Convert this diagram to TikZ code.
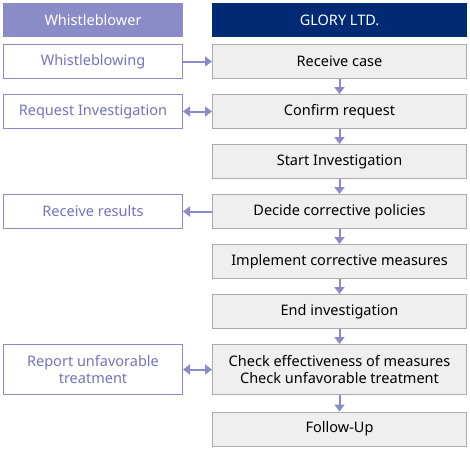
\documentclass[tikz,border=0pt]{standalone}
\usepackage{fontspec}
\setmainfont{Noto Sans}
\usetikzlibrary{arrows.meta}
\definecolor{lav}{HTML}{8B8BC8}
\definecolor{lavtxt}{HTML}{7474BA}
\definecolor{navy}{HTML}{002A74}
\definecolor{boxgray}{HTML}{EEEFEE}
\definecolor{bordgray}{HTML}{ABABAB}
\tikzset{fnt/.style={font=\fontsize{14.5}{17}\selectfont}}
\begin{document}
\begin{tikzpicture}[x=1pt,y=-1pt,
  lefthead/.style={fill=lav,draw=none,minimum width=180pt,minimum height=34pt,inner sep=0pt,text=white,fnt},
  righthead/.style={fill=navy,draw=none,minimum width=255pt,minimum height=34pt,inner sep=0pt,text=white,fnt},
  leftbox/.style={draw=lav,line width=1pt,fill=white,minimum width=179pt,minimum height=34pt,inner sep=0pt,text=lavtxt,align=center,fnt},
  rightbox/.style={draw=bordgray,line width=1pt,fill=boxgray,minimum width=254pt,minimum height=34pt,inner sep=0pt,text=black,align=center,fnt},
  arr/.style={draw=lav,line width=2pt,-{Triangle[length=7pt,width=10pt]}},
  darr/.style={draw=lav,line width=2pt,{Triangle[length=7pt,width=10pt]}-{Triangle[length=7pt,width=10pt]}},
  ]
\useasboundingbox (0,0) rectangle (470,448);
\node[lefthead] (lh) at (93,20) {Whistleblower};
\node[righthead] (rh) at (339.5,20) {GLORY LTD.};
\node[rightbox] (r1) at (339.5,61.5) {Receive case};
\node[rightbox] (r2) at (339.5,111.5) {Confirm request};
\node[rightbox] (r3) at (339.5,161.5) {Start Investigation};
\node[rightbox] (r4) at (339.5,211.5) {Decide corrective policies};
\node[rightbox] (r5) at (339.5,261.5) {Implement corrective measures};
\node[rightbox] (r6) at (339.5,311.5) {End investigation};
\node[rightbox,minimum height=50pt] (r7) at (339.5,369.5) {Check effectiveness of measures\\Check unfavorable treatment};
\node[rightbox] (r8) at (339.5,429) {Follow-Up};
\node[leftbox] (l1) at (93,61.5) {Whistleblowing};
\node[leftbox] (l2) at (93,111.5) {Request Investigation};
\node[leftbox] (l4) at (93,211.5) {Receive results};
\node[leftbox,minimum height=50pt] (l7) at (93,369.5) {Report unfavorable\\treatment};
\draw[arr] (l1.east) -- (r1.west);
\draw[darr] (l2.east) -- (r2.west);
\draw[arr] (r4.west) -- (l4.east);
\draw[darr] (l7.east) -- (r7.west);
\draw[arr] (r1.south) -- (r2.north);
\draw[arr] (r2.south) -- (r3.north);
\draw[arr] (r3.south) -- (r4.north);
\draw[arr] (r4.south) -- (r5.north);
\draw[arr] (r5.south) -- (r6.north);
\draw[arr] (r6.south) -- (r7.north);
\draw[arr] (r7.south) -- (r8.north);
\end{tikzpicture}
\end{document}
